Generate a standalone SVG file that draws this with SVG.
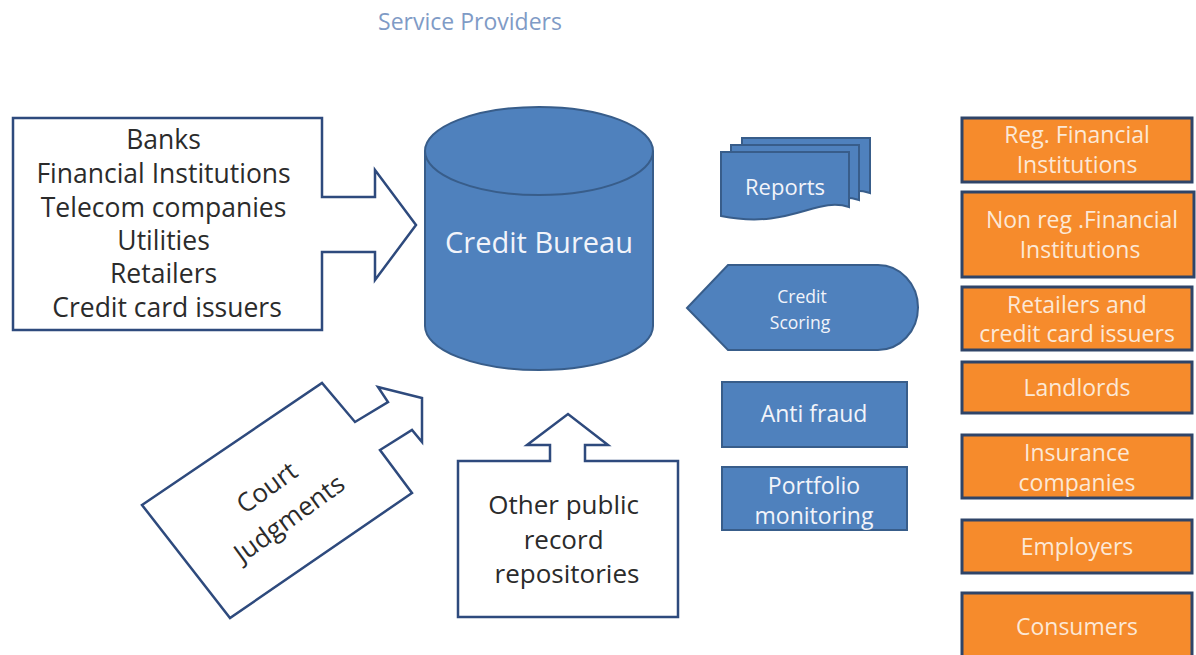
<svg xmlns="http://www.w3.org/2000/svg" width="1196" height="655" viewBox="0 0 1196 655">
<defs>
  <path id="doc" d="M0,0 H128 V55 C95,44 70,78 0,64 Z"/>
</defs>
<style>
  .outline { fill: #ffffff; stroke: #2E4A7D; stroke-width: 2.5; stroke-linejoin: miter; }
  .blue { fill: #4F81BD; stroke: #385D8A; stroke-width: 2; }
  .orange { fill: #F68B2C; stroke: #2F4468; stroke-width: 3; }
  .dark { font-family: "Open Sans", "Liberation Sans", sans-serif; fill: #2B2B2B; text-anchor: middle; }
  .white { font-family: "Open Sans", "Liberation Sans", sans-serif; fill: #F2F4FA; text-anchor: middle; }
  .cream { font-family: "Open Sans", "Liberation Sans", sans-serif; fill: #FCE8D6; text-anchor: middle; font-size: 23px; }
</style>
<rect width="1196" height="655" fill="#ffffff"/>

<text x="470" y="30" font-family="'Open Sans', 'Liberation Sans', sans-serif" font-size="23" fill="#7F9BC6" text-anchor="middle">Service Providers</text>

<g id="sources">
  <polygon class="outline" points="13,118 322,118 322,197 375,197 375,170 416,225 375,280 375,252 322,252 322,330 13,330"/>
  <text class="dark" font-size="26.5">
    <tspan x="167" y="149">Banks</tspan>
    <tspan x="167" y="183">Financial Institutions</tspan>
    <tspan x="167" y="217">Telecom  companies</tspan>
    <tspan x="167" y="250">Utilities</tspan>
    <tspan x="167" y="283">Retailers</tspan>
    <tspan x="167" y="317">Credit card issuers</tspan>
  </text>
</g>

<g id="court">
  <polygon class="outline" points="142,505 322,383 355,422 388,402 378,387 422,398 422,442 412,430 380,450 412,493 230,618"/>
  <g transform="translate(278,503) rotate(-36)">
    <text class="dark" font-size="26"><tspan x="0" y="-10">Court</tspan><tspan x="0" y="28">Judgments</tspan></text>
  </g>
</g>

<g id="other-public">
  <polygon class="outline" points="458,461 550,461 550,445 527,445 568,414 608,445 585,445 585,461 678,461 678,617 458,617"/>
  <text class="dark" font-size="26">
    <tspan x="567" y="514">Other public</tspan>
    <tspan x="567" y="549">record</tspan>
    <tspan x="567" y="583">repositories</tspan>
  </text>
</g>

<g id="credit-bureau">
  <path class="blue" d="M425,151 A114,44 0 0 1 653,151 V326 A114,44 0 0 1 425,326 Z"/>
  <path fill="none" stroke="#385D8A" stroke-width="2" d="M425,151 A114,44 0 0 0 653,151"/>
  <text class="white" x="539" y="253" font-size="29">Credit Bureau</text>
</g>

<g id="reports">
  <use href="#doc" class="blue" transform="translate(742,138)"/>
  <use href="#doc" class="blue" transform="translate(731,145)"/>
  <use href="#doc" class="blue" transform="translate(721,152)"/>
  <text class="white" x="785" y="195" font-size="22">Reports</text>
</g>

<g id="credit-scoring">
  <path class="blue" d="M687,308 L728,265 H878 A40,42.5 0 0 1 878,350 H728 Z"/>
  <text class="white" font-size="17.5"><tspan x="802" y="303">Credit</tspan><tspan x="800" y="329">Scoring</tspan></text>
</g>

<g id="anti-fraud">
  <rect class="blue" x="722" y="382" width="185" height="65"/>
  <text class="white" x="814" y="422" font-size="23">Anti fraud</text>
</g>

<g id="portfolio">
  <rect class="blue" x="722" y="467" width="185" height="63"/>
  <text class="white" font-size="23"><tspan x="814" y="494">Portfolio</tspan><tspan x="814" y="524">monitoring</tspan></text>
</g>

<g id="reg-fi">
  <rect class="orange" x="962" y="118" width="230" height="64"/>
  <text class="cream"><tspan x="1077" y="143">Reg. Financial</tspan><tspan x="1077" y="173">Institutions</tspan></text>
</g>
<g id="nonreg-fi">
  <rect class="orange" x="962" y="192" width="232" height="85"/>
  <text class="cream"><tspan x="1082" y="228">Non reg .Financial</tspan><tspan x="1080" y="258">Institutions</tspan></text>
</g>
<g id="retailers">
  <rect class="orange" x="962" y="287" width="230" height="63"/>
  <text class="cream"><tspan x="1077" y="313">Retailers and</tspan><tspan x="1077" y="342">credit card issuers</tspan></text>
</g>
<g id="landlords">
  <rect class="orange" x="962" y="362" width="230" height="51"/>
  <text class="cream" x="1077" y="396">Landlords</text>
</g>
<g id="insurance">
  <rect class="orange" x="962" y="435" width="230" height="63"/>
  <text class="cream"><tspan x="1077" y="461">Insurance</tspan><tspan x="1077" y="491">companies</tspan></text>
</g>
<g id="employers">
  <rect class="orange" x="962" y="520" width="230" height="53"/>
  <text class="cream" x="1077" y="555">Employers</text>
</g>
<g id="consumers">
  <rect class="orange" x="962" y="593" width="230" height="70"/>
  <text class="cream" x="1077" y="635">Consumers</text>
</g>

<g id="connectors"></g>
</svg>
